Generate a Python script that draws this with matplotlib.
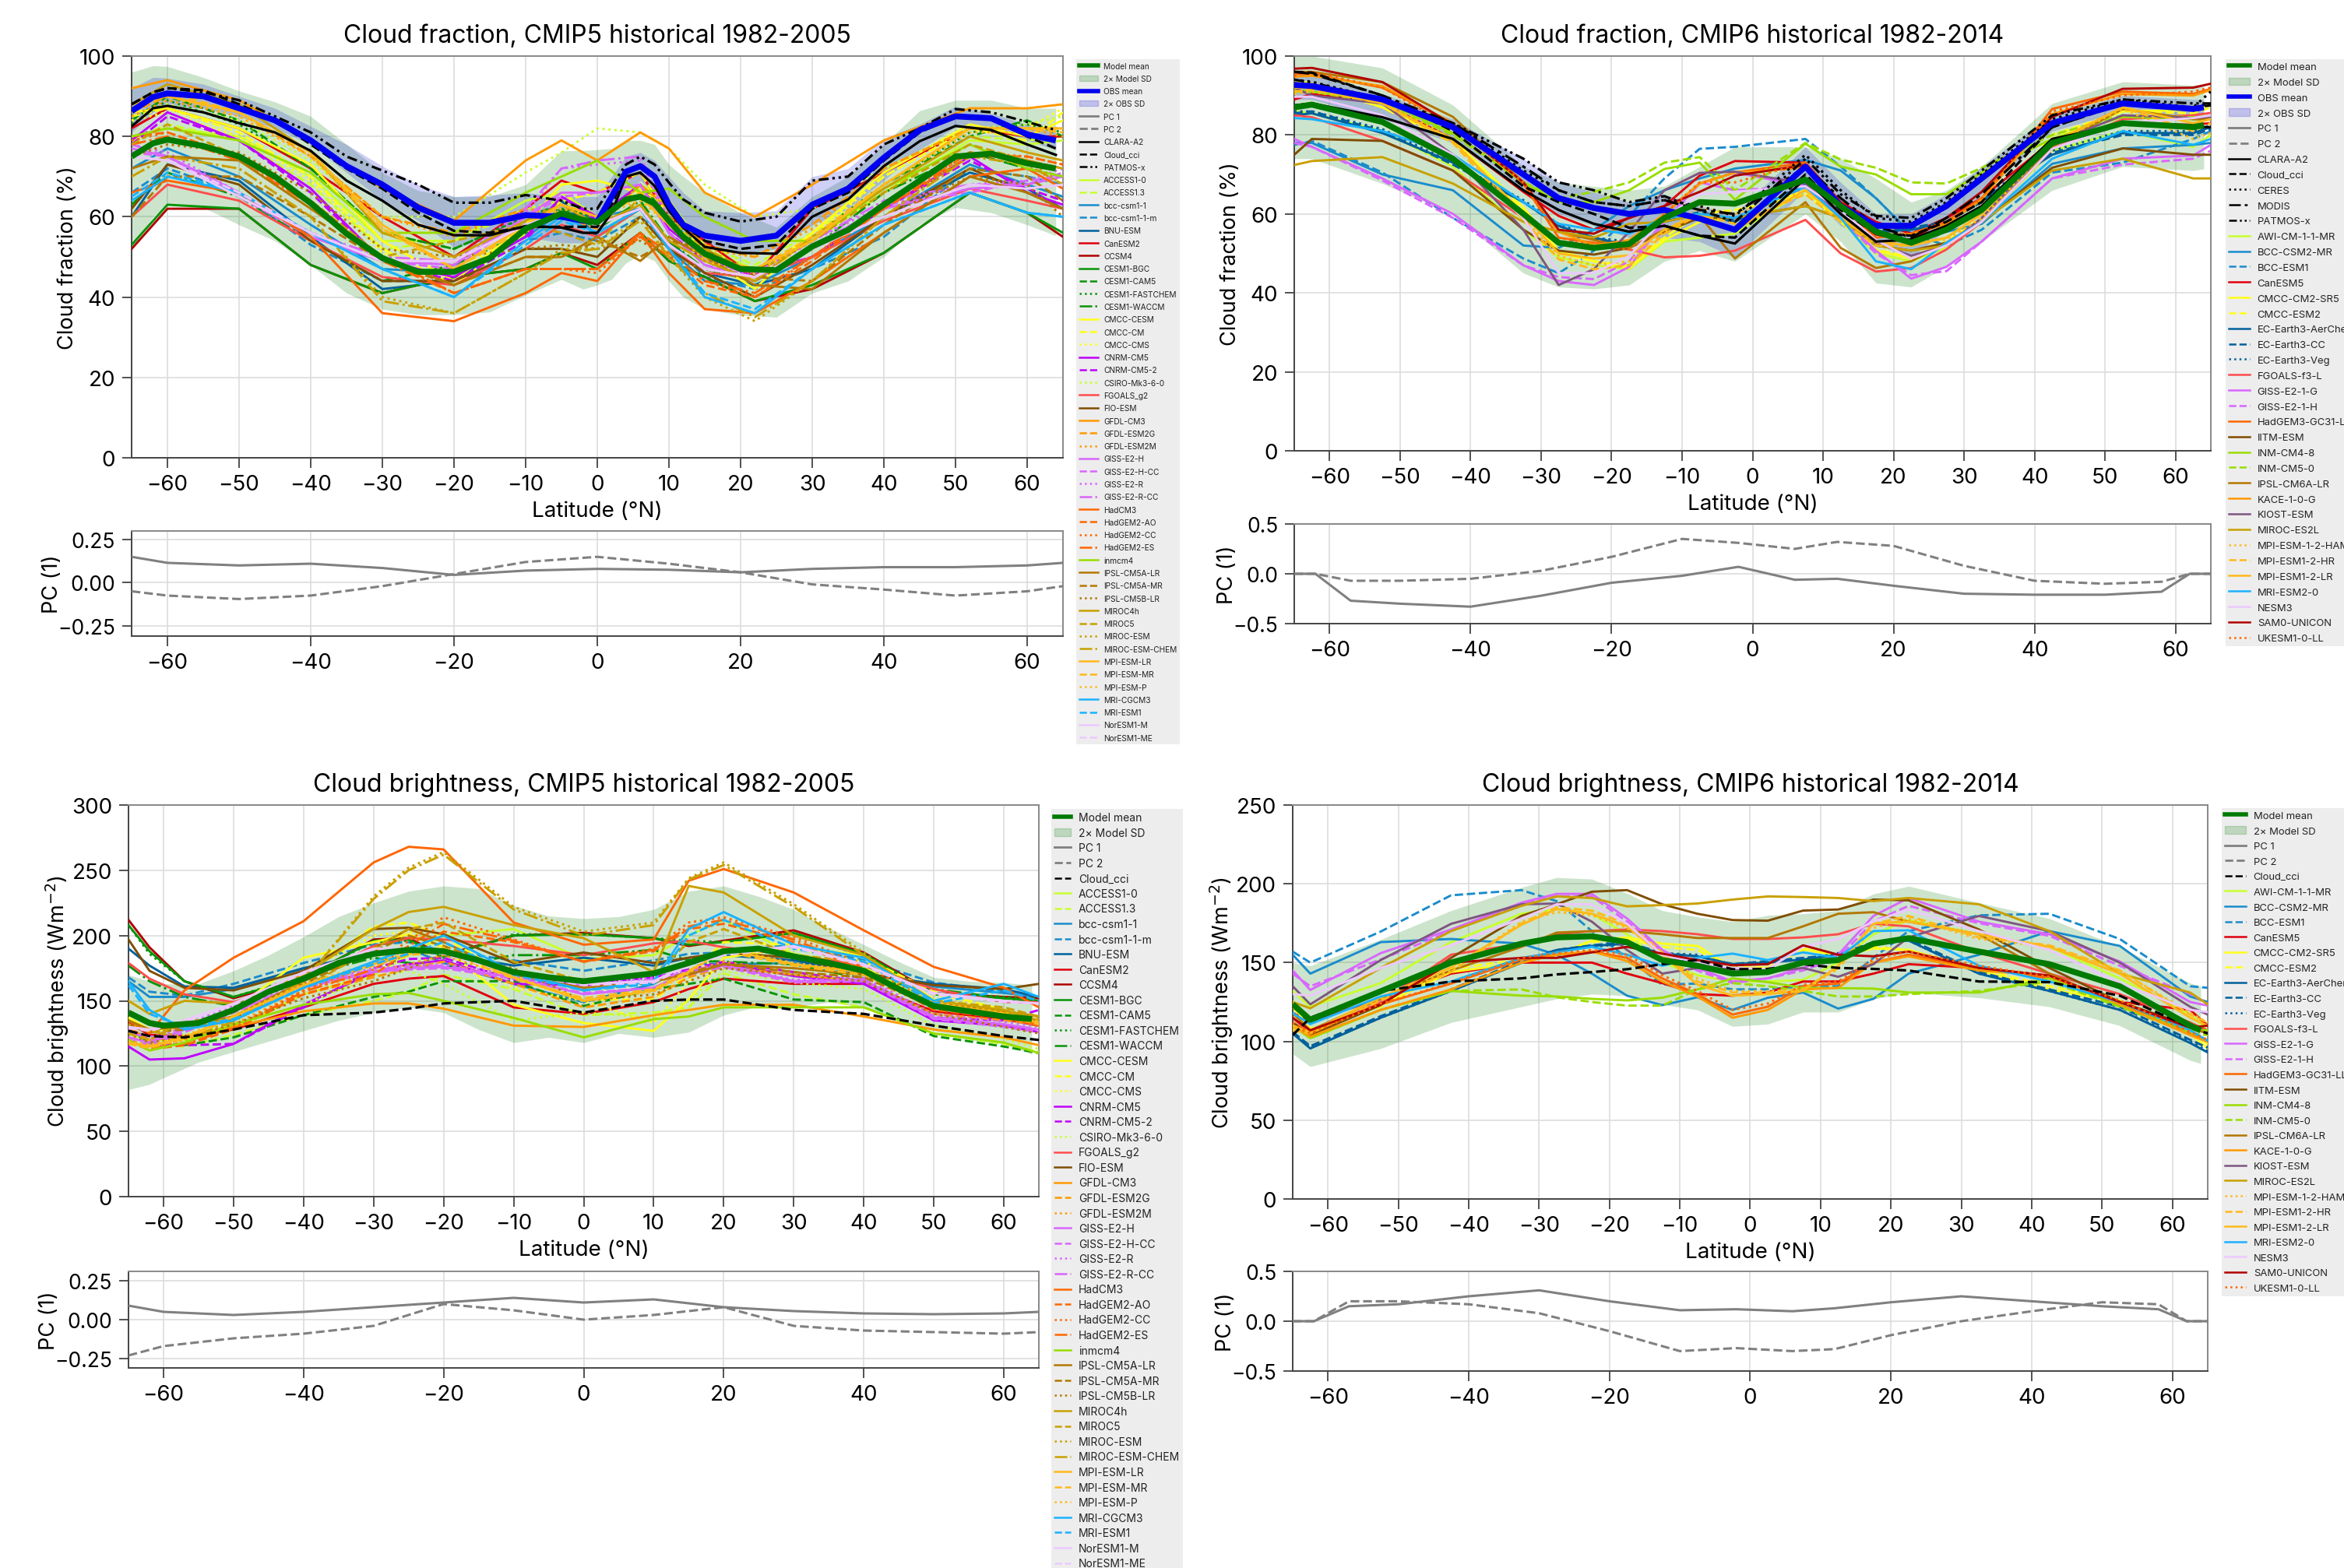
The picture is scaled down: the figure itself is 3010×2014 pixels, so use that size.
import matplotlib
matplotlib.use("Agg")
import matplotlib.pyplot as plt
from matplotlib.lines import Line2D
from matplotlib.patches import Patch

plt.rcParams["font.family"] = ["Inter", "DejaVu Sans"]

# cloud fraction, CMIP5
cf5_lat = [-65, -60, -50, -40, -30, -20, -10, -5, 0, 6, 10, 15, 22, 30, 40, 52, 60, 65]
cf5_fine = [-65, -62, -60, -55, -50, -45, -40, -35, -30, -25, -20, -15, -10, -5, -2, 0, 2, 4, 6, 8, 10, 12, 15, 20, 25, 30, 35, 40, 45, 50, 55, 60, 64]
cf5_mean = [75, 78.3, 79.2, 77.6, 75, 70, 63.4, 55.8, 49.7, 46.3, 46.3, 49.7, 57, 60.8, 59.2, 58.6, 61.5, 64.3, 65, 63.3, 59, 55, 50.8, 47, 46.7, 52.6, 56.7, 63, 69, 75, 75.7, 73.3, 72]
cf5_up = [96, 97.6, 97.4, 94.7, 91.3, 88.6, 85, 78, 71, 66.5, 65, 65, 68, 76.4, 76.5, 76.7, 77, 79, 79, 78, 73, 70, 66, 61, 57.4, 65, 70, 78, 86.4, 89, 89, 87, 87]
cf5_lo = [52, 60, 62.7, 62.3, 58, 54, 48, 41, 37, 35.6, 35.6, 36.3, 40.5, 44.4, 42, 43, 44.4, 48.5, 50.5, 49, 44, 40, 37, 35.5, 35, 41, 44, 50, 58, 62.3, 61, 58, 55.3]
cf5_obs = [86.3, 89.8, 90.7, 90, 87, 84, 79, 72.6, 68, 62.3, 58.5, 58.5, 60.4, 60, 59, 58.8, 65, 71.2, 72.6, 70, 63, 58, 55.3, 54, 55.3, 63, 67, 74.7, 81.6, 85, 84.5, 80.5, 79]
cf5_obs_up = [92, 94.7, 94.5, 93, 90, 87, 82.5, 78, 72.6, 68, 65, 65.4, 66, 65, 65, 65, 70, 75, 76, 74, 70, 66, 61.5, 61, 61.5, 70, 72, 79.5, 83, 87.5, 85.7, 83, 81.6]
cf5_obs_lo = [81, 86, 87.5, 87, 85, 82, 78, 71, 64, 59, 52.4, 54.3, 55, 53.5, 53.5, 54.3, 60, 65.6, 69, 66, 58, 55, 53, 50.8, 52, 58, 62, 69, 76.7, 82.3, 82.3, 79, 76.7]
cf5_sat_names = ["CLARA-A2", "Cloud_cci", "PATMOS-x"]
cf5_sat_vals = [
    [82.5, 87, 87.6, 86, 83.3, 81, 76.4, 69, 64, 58, 55.4, 55.4, 57.7, 57.3, 56, 56, 61, 70, 71, 67.7, 61.5, 57.3, 52.5, 51, 50.8, 60, 64.3, 72.6, 78.8, 82.6, 81.6, 78, 75.4],
    [88, 91, 92, 91.5, 88, 84, 78, 72, 67, 61, 56.5, 56, 57.5, 57.5, 57.5, 57.5, 63, 71, 73, 70, 63, 58, 54, 52, 53, 62, 66, 74, 81, 85, 84.5, 80, 77],
    [88, 91, 92, 91, 89, 85, 81, 75, 71.5, 68, 63.5, 63.5, 65.4, 64, 62, 62, 67.7, 73, 75, 73, 68.5, 64.3, 61, 58.8, 60, 69, 70, 78, 82, 86.8, 86, 83.6, 81.6],
]
cf5_vals = [
    [80, 82, 80, 70, 54, 54, 64, 66, 60, 68, 64, 52, 47, 54, 66, 79, 78, 79],
    [79, 83, 79, 68, 52, 54, 62, 64, 60, 67, 63, 53, 48, 56, 67, 80, 79, 80],
    [72, 77, 70, 58, 47, 46, 55, 61, 60, 62, 52, 44, 43, 50, 60, 73, 68, 65],
    [66, 72, 66, 53, 44, 44, 54, 56, 54, 60, 54, 45, 42, 47, 55, 72, 70, 68],
    [60, 73, 69, 55, 42, 44, 56, 64, 55, 62, 54, 46, 43, 47, 60, 71, 67, 62],
    [82, 87, 82, 72, 60, 50, 62, 69, 66, 71, 60, 54, 45, 62, 71, 82, 80, 80],
    [52, 62, 62, 48, 41, 45, 47, 51, 48, 56, 49, 45, 39, 42, 51, 66, 61, 55],
    [53, 63, 62, 48, 41, 45, 47, 51, 47, 56, 49, 45, 39, 43, 51, 66, 61, 56],
    [84, 90, 84, 72, 56, 52, 60, 63, 59, 68, 60, 50, 46, 54, 68, 80, 84, 80],
    [83, 89, 83, 72, 56, 52, 60, 62, 60, 68, 60, 51, 46, 55, 68, 81, 83, 81],
    [63, 71, 65, 54, 44, 48, 56, 62, 57, 64, 54, 47, 44, 52, 66, 76, 72, 70],
    [86, 87, 82, 73, 54, 44, 58, 68, 69, 66, 64, 50, 42, 56, 71, 83, 80, 84],
    [85, 87, 81, 70, 52, 43, 56, 64, 66, 71, 60, 50, 45, 56, 70, 82, 79, 86],
    [84, 86, 80, 69, 51, 46, 57, 63, 60, 67, 60, 50, 44, 55, 70, 82, 82, 87],
    [79, 86, 79, 67, 49, 45, 55, 65, 60, 68, 57, 50, 45, 50, 62, 75, 66, 63],
    [78, 85, 79, 66, 49, 44, 54, 65, 59, 68, 56, 49, 46, 50, 62, 74, 67, 64],
    [85, 88, 84, 74, 60, 60, 71, 76, 82, 81, 77, 68, 60, 62, 72, 82, 83, 85],
    [60, 68, 64, 54, 45, 43, 52, 58, 55, 62, 53, 46, 45, 50, 59, 67, 64, 62],
    [62, 73, 68, 54, 44, 44, 52, 52, 50, 60, 52, 46, 40, 48, 60, 72, 66, 62],
    [92, 94, 89, 79, 67, 59, 74, 79, 74, 81, 77, 66, 60, 68, 79, 87, 87, 88],
    [86, 90, 86, 75, 60, 56, 62, 60, 57, 68, 62, 53, 50, 58, 72, 82, 82, 82],
    [85, 89, 85, 75, 60, 55, 62, 61, 58, 68, 62, 52, 50, 57, 72, 82, 82, 80],
    [77, 75, 66, 55, 49, 48, 60, 66, 66, 68, 56, 48, 44, 53, 62, 67, 68, 70],
    [76, 75, 65, 55, 49, 47, 60, 65, 66, 68, 56, 48, 45, 52, 63, 66, 69, 70],
    [78, 76, 66, 56, 49, 48, 61, 72, 73, 74, 58, 49, 45, 54, 63, 68, 69, 72],
    [78, 75, 66, 56, 50, 49, 62, 72, 74, 75, 59, 49, 46, 54, 64, 68, 68, 71],
    [66, 69, 66, 55, 36, 34, 41, 46, 44, 56, 46, 37, 36, 44, 56, 70, 72, 67],
    [80, 81, 75, 63, 50, 41, 47, 47, 47, 55, 50, 43, 40, 49, 62, 75, 75, 73],
    [79, 81, 75, 64, 50, 41, 47, 47, 46, 55, 51, 44, 40, 50, 63, 76, 75, 73],
    [78, 80, 74, 63, 49, 41, 47, 47, 47, 56, 51, 44, 41, 50, 62, 76, 74, 72],
    [80, 82, 79, 71, 56, 56, 66, 70, 74, 66, 67, 60, 54, 54, 67, 78, 72, 70],
    [72, 75, 74, 62, 50, 43, 50, 50, 55, 49, 55, 50, 43, 42, 56, 70, 66, 62],
    [60, 70, 70, 60, 49, 43, 50, 50, 54, 50, 54, 52, 45, 44, 58, 72, 70, 64],
    [75, 78, 76, 66, 52, 50, 52, 53, 52, 54, 50, 47, 44, 52, 60, 70, 68, 60],
    [88, 93, 88, 76, 56, 50, 59, 63, 58, 63, 54, 49, 44, 55, 67, 80, 76, 74],
    [78, 83, 75, 64, 50, 54, 58, 56, 53, 65, 60, 52, 46, 54, 66, 78, 74, 72],
    [70, 75, 72, 60, 40, 36, 46, 52, 52, 60, 50, 40, 34, 44, 60, 76, 74, 68],
    [70, 75, 72, 60, 39, 36, 46, 51, 52, 59, 50, 41, 35, 44, 60, 75, 73, 68],
    [88, 90, 86, 76, 58, 47, 58, 63, 60, 65, 58, 50, 47, 54, 68, 82, 82, 82],
    [88, 91, 86, 76, 57, 47, 57, 63, 60, 66, 59, 50, 47, 55, 68, 82, 82, 81],
    [87, 90, 85, 75, 57, 47, 58, 62, 60, 64, 58, 49, 46, 54, 68, 81, 81, 82],
    [64, 70, 66, 56, 47, 40, 54, 60, 56, 62, 52, 40, 36, 47, 58, 66, 61, 60],
    [65, 71, 66, 56, 47, 40, 53, 59, 56, 62, 52, 41, 37, 47, 58, 66, 61, 60],
    [75, 74, 65, 56, 49, 49, 58, 61, 58, 62, 53, 47, 45, 52, 60, 68, 67, 68],
    [75, 74, 66, 56, 49, 49, 58, 60, 58, 62, 53, 47, 45, 52, 60, 68, 67, 68],
]

# cloud fraction, CMIP6
cf6_lat = [-65, -62.5, -52.5, -42.5, -32.5, -27.5, -22.5, -17.5, -12.5, -7.5, -2.5, 7.5, 12.5, 17.5, 22.5, 27.5, 32.5, 42.5, 52.5, 62.5, 65]
cf6_fine = [-65, -62.5, -52.5, -42.5, -32.5, -27.5, -22.5, -17.5, -12.5, -7.5, -2.5, 7.5, 12.5, 17.5, 22.5, 27.5, 32.5, 42.5, 52.5, 62.5, 64]
cf6_mean = [87, 87.7, 83.3, 74, 60, 52.7, 51.4, 52.4, 59, 63, 62.6, 68.7, 62, 55.5, 52.7, 56, 61, 78, 83, 82, 82.5]
cf6_up = [100, 100, 97, 87.6, 72, 68, 67, 66, 67, 72, 77, 77, 74, 69, 63, 66, 72, 88, 93.5, 92.6, 92.7]
cf6_lo = [74, 74, 67.7, 60, 45, 41.5, 41, 42, 48, 50.7, 48, 60, 53, 42.5, 41.5, 46.7, 53, 66, 72, 71, 71.4]
cf6_obs = [92.7, 92.4, 89, 82, 70, 64, 61.5, 60, 61, 58.8, 56, 72, 62, 57, 57, 62, 69, 83, 88, 86.6, 87]
cf6_obs_up = [96, 96, 90.5, 84, 74, 68, 65.5, 63, 65, 62, 60, 77, 68, 60, 60, 65, 72, 85, 90, 89, 89]
cf6_obs_lo = [89, 89, 84, 78, 66, 60, 57, 54, 54, 53, 49, 66, 57, 53, 49, 56, 65, 81, 86, 84, 85]
cf6_sat_names = ["CLARA-A2", "Cloud_cci", "CERES", "MODIS", "PATMOS-x"]
cf6_sat_vals = [
    [87.5, 88, 84.5, 79, 66, 61, 57.5, 55.5, 57, 54.5, 52.5, 69, 60, 53, 53.5, 57, 62, 79, 82.8, 82, 82],
    [96, 95.8, 90, 81, 67, 63, 60, 56.5, 57, 54.5, 54, 70, 61, 55, 54.5, 58, 63, 82, 88, 87, 87.5],
    [94, 93.5, 89, 83, 71, 66, 63, 62, 63.5, 62, 59.5, 75, 66, 59, 58, 63, 70, 84, 89, 87, 91],
    [96, 95.5, 90, 83, 72, 66, 63, 62, 63.5, 61, 60, 72, 64, 57, 54, 59, 65, 82, 88, 87, 88],
    [94, 93.3, 89, 83, 74, 68, 66, 63, 64.5, 61, 58, 74, 65, 59.5, 59, 64, 71, 85, 89, 88, 88],
]
cf6_vals = [
    [86, 85.5, 81, 72, 56, 49, 47, 46, 53, 54, 55, 66, 58, 50, 48, 51.5, 58, 76, 81, 77, 80],
    [78, 78, 70, 66, 52, 51.4, 56, 62, 66, 69, 71.5, 73.7, 71, 64, 55, 55.5, 57.5, 72.7, 76.6, 77.5, 78],
    [77.5, 78.5, 70.5, 59, 48.7, 45, 50.7, 59.5, 69, 76.5, 77, 79, 72, 64, 55, 52, 56, 70.5, 73, 79, 81],
    [89, 90.4, 88, 79, 65.6, 59.5, 56, 59, 62, 69.7, 73.4, 73, 63, 58, 55, 59, 64, 78.5, 83, 82.6, 83],
    [93.8, 93, 87, 79, 61.6, 50.7, 48, 46.3, 53.4, 58, 59, 66, 58, 50.7, 48.7, 52, 58, 79, 86, 86.3, 87.7],
    [93, 92.5, 87, 78, 61, 50, 48, 47, 54, 60, 61, 65, 58, 51, 49, 53, 59, 80, 86, 85.5, 87],
    [85, 85.5, 80.5, 73, 63, 57, 54, 52, 58, 60, 58, 67.7, 61, 55.5, 56, 57.5, 63.6, 75, 80.5, 80.5, 82],
    [85.5, 86, 81, 72.5, 63, 57, 53.5, 52.5, 58, 60.5, 58.5, 67, 61, 55, 56.5, 58, 63, 75.5, 80, 80, 81.5],
    [86, 86, 81.5, 73, 63.5, 57.5, 54, 53, 58.5, 60, 58, 68, 61.5, 56, 56, 58, 64, 76, 81, 81, 82.5],
    [85, 84.5, 78.5, 71, 59, 53, 52, 51, 49, 49.4, 50.7, 58.5, 50, 45.4, 46.3, 51, 58, 76.5, 84, 85, 85.6],
    [79, 77, 69, 60, 47, 43, 42, 46.6, 58, 67.7, 70.5, 67, 59, 50.7, 43.6, 46.6, 53, 69, 74, 74.8, 77.5],
    [78, 77, 68.5, 59, 47, 44, 43.5, 48, 58, 68, 66, 67, 59, 50, 44.5, 45.5, 53, 69, 72.5, 74, 76],
    [95.5, 95.5, 92, 83, 67.7, 54, 52.7, 51.7, 60, 67.7, 70.5, 73, 62, 54, 55, 58, 64, 86.6, 91, 90.4, 91.7],
    [75, 79, 78.5, 71, 56, 50.7, 49.7, 51.4, 55.5, 59, 59, 62, 59, 52, 50.7, 52.7, 58, 71.7, 76.6, 75, 75],
    [91.4, 91, 88.7, 80.5, 68, 63, 63, 66, 71.4, 73, 63.6, 77.8, 72, 70, 65, 65, 70.5, 79, 84.6, 84, 84],
    [91, 91, 88, 80, 68, 64, 65.6, 68, 73, 74.4, 66, 78, 73.8, 71.7, 68, 67.7, 71.7, 80, 85, 84.5, 85],
    [96, 96, 93.4, 84.6, 68, 55.5, 53.4, 51.4, 56, 59.5, 48.7, 63, 51.4, 46.3, 48, 52.7, 58, 77, 86.6, 84, 84],
    [94.8, 95, 92.4, 83, 68, 55.5, 52, 53.4, 60, 67.7, 70.5, 71.7, 62, 54.8, 54.8, 57.5, 63.6, 85.3, 90.4, 90, 91.4],
    [92, 90, 88, 75, 56, 42, 46, 55.5, 66, 70.4, 70.7, 67.7, 60, 52.7, 49.4, 52, 59, 77.8, 85, 84.3, 84.6],
    [72.4, 73.4, 74.4, 67.7, 58, 55.5, 54, 57.5, 58, 60, 59, 62, 59, 52, 50.7, 52, 58, 71, 74, 69, 69],
    [90.4, 91, 88.5, 79, 59, 49.4, 47, 48, 55.5, 61.6, 60, 66, 59, 52.7, 53.4, 53.4, 59, 77.8, 86.6, 79, 80.5],
    [91, 91.5, 88, 78, 58.5, 48.5, 46, 47, 55, 60, 57.5, 65, 58, 52, 52, 54, 60, 78, 87, 81, 83],
    [92, 92, 88, 78.5, 60, 50, 48.7, 49.5, 56, 60, 56, 66, 59, 53, 52, 54, 60, 78, 87, 83, 84],
    [84.3, 84, 81, 75, 63, 57.5, 56, 55, 59, 60, 59, 67, 59, 48, 46, 52.7, 58, 74, 81, 77.5, 79],
    [89.7, 89.7, 85, 75, 59, 45, 45, 49.4, 59, 65, 65.6, 67, 61, 53.4, 48.7, 52, 58, 76.5, 83, 84.3, 85],
    [96.8, 97, 93.4, 82.6, 68, 56, 55, 59, 62, 65.6, 69.7, 72.4, 61.6, 54.8, 53.4, 59, 65.6, 84.6, 91.7, 92, 93],
    [95, 96, 92, 82, 68, 54, 52, 51, 60, 68, 68, 73, 62, 55, 55, 58, 64, 86, 90, 91, 92],
]

# cloud brightness, CMIP5
cb5_lat = [-65, -62, -57, -50, -40, -30, -25, -20, -10, 0, 10, 15, 20, 30, 40, 50, 60, 65]
cb5_fine = [-65, -62, -60, -55, -50, -45, -40, -35, -30, -25, -20, -15, -10, -5, 0, 5, 10, 15, 20, 25, 30, 35, 40, 45, 50, 55, 60, 64]
cb5_mean = [141, 133, 131, 133, 143, 157, 167, 179, 186, 189, 188, 181, 172, 168, 165, 168, 171, 179, 188, 190, 184, 179, 173, 159, 146, 142, 138, 136]
cb5_up = [170, 165, 163, 163, 173, 185, 199, 214.5, 225, 234, 238, 236, 223, 215, 213, 214.5, 220, 234, 238, 230, 220, 206, 193, 180, 168, 165, 164, 162]
cb5_lo = [82, 86, 91, 103, 111, 119, 127, 135, 141, 145, 141, 128, 118, 122, 118, 125, 122, 126, 139, 146, 145, 149, 145, 135, 127, 120, 117, 109]
cb5_cci = [127, 123, 122, 128, 139, 141, 144, 148, 150, 141, 150, 151, 151, 143, 140, 131, 123, 120]
cb5_vals = [
    [125, 120, 120, 128, 155, 170, 185, 200, 205, 182, 185, 200, 212, 186, 176, 148, 138, 130],
    [122, 117, 115, 124, 139, 150, 157, 170, 159, 139, 141, 145, 171, 155, 145, 125, 117, 111],
    [165, 153, 153, 159, 175, 186, 190, 179, 163, 149, 163, 179, 178, 179, 171, 161, 156, 153],
    [168, 157, 154, 163, 179, 193, 195, 188, 181, 173, 181, 186, 187, 193, 181, 164, 157, 153],
    [190, 177, 161, 160, 175, 187, 188, 186, 177, 183, 177, 183, 185, 181, 171, 163, 159, 153],
    [133, 124, 123, 128, 145, 163, 167, 169, 145, 140, 149, 159, 167, 163, 163, 142, 136, 131],
    [212, 191, 165, 152, 167, 197, 198, 185, 200, 202, 198, 192, 196, 204, 187, 156, 153, 152],
    [208, 188, 165, 153, 168, 196, 197, 184, 200, 201, 198, 193, 195, 202, 186, 155, 152, 150],
    [128, 118, 116, 122, 139, 153, 157, 165, 165, 146, 159, 163, 167, 151, 149, 123, 115, 110],
    [208, 186, 165, 153, 169, 195, 196, 183, 201, 201, 198, 196, 195, 202, 184, 156, 153, 152],
    [177, 165, 153, 146, 169, 183, 179, 175, 185, 185, 189, 181, 180, 178, 167, 159, 152, 149],
    [137, 128, 129, 143, 183, 195, 201, 191, 147, 133, 127, 151, 183, 191, 185, 151, 141, 131],
    [137, 127, 130, 141, 170, 207, 210, 199, 167, 151, 151, 170, 195, 193, 183, 157, 143, 133],
    [135, 126, 130, 142, 172, 200, 203, 195, 160, 150, 133, 165, 190, 190, 180, 155, 142, 132],
    [115, 105, 106, 117, 147, 172, 178, 181, 163, 162, 165, 172, 179, 169, 163, 135, 131, 126],
    [118, 116, 116, 117, 145, 175, 182, 183, 166, 163, 168, 174, 180, 172, 165, 137, 135, 143],
    [122, 120, 124, 131, 147, 169, 173, 163, 135, 141, 137, 150, 173, 164, 159, 131, 121, 113],
    [179, 167, 155, 149, 165, 192, 198, 197, 192, 185, 194, 196, 191, 185, 177, 159, 149, 149],
    [197, 173, 160, 158, 173, 205, 206, 201, 179, 187, 179, 183, 187, 183, 171, 162, 159, 163],
    [130, 120, 122, 130, 142, 148, 148, 144, 131, 130, 139, 143, 147, 147, 138, 128, 122, 116],
    [120, 112, 118, 130, 155, 168, 175, 180, 163, 145, 153, 168, 176, 170, 165, 140, 135, 132],
    [125, 116, 120, 132, 158, 172, 178, 185, 168, 150, 158, 172, 180, 172, 168, 145, 138, 135],
    [122, 118, 128, 142, 162, 172, 175, 176, 168, 155, 160, 172, 178, 165, 166, 137, 132, 128],
    [120, 116, 126, 141, 160, 172, 174, 175, 167, 156, 160, 170, 176, 164, 165, 136, 130, 126],
    [128, 122, 132, 146, 163, 175, 177, 178, 170, 163, 168, 173, 178, 166, 168, 140, 134, 130],
    [127, 120, 130, 144, 162, 174, 176, 177, 168, 162, 166, 172, 177, 165, 167, 138, 132, 128],
    [135, 125, 158, 183, 211, 256, 268, 266, 210, 193, 197, 242, 251, 233, 204, 176, 160, 145],
    [118, 113, 116, 128, 155, 170, 188, 203, 195, 180, 188, 205, 209, 195, 173, 143, 137, 131],
    [120, 115, 118, 130, 158, 178, 196, 214, 197, 180, 190, 210, 214, 199, 178, 147, 140, 133],
    [119, 114, 117, 129, 157, 174, 192, 209, 196, 180, 189, 207, 212, 197, 175, 145, 138, 132],
    [120, 112, 118, 132, 147, 155, 156, 150, 137, 122, 136, 138, 145, 145, 145, 125, 118, 110],
    [135, 128, 130, 138, 165, 190, 205, 195, 170, 160, 165, 170, 178, 175, 170, 148, 142, 138],
    [132, 126, 128, 136, 163, 188, 200, 192, 172, 158, 164, 172, 178, 172, 168, 146, 140, 135],
    [125, 118, 122, 132, 152, 165, 175, 185, 175, 150, 155, 165, 175, 170, 165, 140, 130, 125],
    [150, 140, 150, 148, 170, 205, 218, 222, 208, 198, 172, 238, 233, 200, 185, 150, 143, 135],
    [125, 120, 135, 135, 160, 190, 205, 210, 180, 165, 170, 195, 205, 185, 180, 150, 145, 138],
    [132, 128, 122, 135, 165, 230, 252, 264, 222, 203, 210, 244, 256, 224, 187, 145, 143, 137],
    [130, 127, 121, 134, 165, 228, 250, 262, 220, 200, 208, 243, 254, 222, 185, 146, 142, 138],
    [118, 115, 122, 138, 162, 178, 186, 190, 168, 150, 158, 172, 190, 178, 172, 148, 140, 133],
    [117, 114, 121, 137, 161, 177, 185, 188, 167, 152, 159, 173, 188, 177, 170, 147, 139, 132],
    [119, 116, 123, 139, 163, 179, 187, 191, 169, 150, 157, 171, 190, 179, 172, 149, 141, 134],
    [165, 143, 128, 135, 160, 180, 190, 200, 172, 158, 165, 205, 218, 193, 183, 150, 163, 153],
    [162, 140, 130, 136, 160, 178, 186, 195, 170, 158, 163, 200, 212, 190, 180, 148, 158, 150],
    [130, 128, 135, 148, 172, 190, 190, 187, 172, 163, 165, 178, 186, 192, 178, 156, 150, 148],
    [129, 127, 134, 147, 171, 189, 189, 186, 171, 162, 164, 177, 185, 191, 177, 155, 149, 148],
]

# cloud brightness, CMIP6
cb6_lat = [-65, -62.5, -52.5, -42.5, -32.5, -27.5, -22.5, -17.5, -12.5, -7.5, -2.5, 2.5, 7.5, 12.5, 17.5, 22.5, 32.5, 42.5, 52.5, 62.5, 65]
cb6_fine = [-65, -62.5, -52.5, -42.5, -32.5, -27.5, -22.5, -17.5, -12.5, -7.5, -2.5, 2.5, 7.5, 12.5, 17.5, 22.5, 32.5, 42.5, 52.5, 62.5, 64]
cb6_mean = [123.6, 113.7, 131.8, 150, 162, 166, 166.7, 163, 151.6, 148, 143, 144, 150, 151.6, 162, 165.5, 157, 149, 135, 110, 107]
cb6_up = [150, 148, 164.7, 183, 197.7, 204, 203, 194, 183, 179, 176, 180, 181, 183, 193.6, 198.5, 188, 178, 160, 137, 135]
cb6_lo = [92, 84, 95.5, 112, 122, 127, 130, 129, 123.5, 120, 109.5, 111, 118.6, 118.6, 126.8, 131, 127.7, 122, 110, 88, 86]
cb6_cci = [104, 115, 132, 138, 140, 142.5, 144, 145.8, 149, 151.6, 145.8, 146, 149, 146.6, 146, 145, 138, 137.6, 129, 109, 105]
cb6_vals = [
    [132, 122, 137, 163, 181, 184, 181, 168, 150, 142, 138, 138, 139, 150, 168, 177, 168, 160, 140, 117, 107],
    [155, 143, 163, 165, 162, 155, 143, 129, 123, 128, 120, 127.7, 131, 120.8, 127, 143, 155, 170, 160.6, 128.5, 125],
    [157, 150, 169.7, 192.7, 196, 189, 170, 153, 136, 136.7, 133, 133, 135, 135, 153, 170, 180, 181, 165, 135, 134],
    [118, 113, 127, 143, 150, 150, 150, 143, 137, 130, 129, 131, 138, 138, 143, 149, 146.6, 141.7, 125, 120, 110],
    [125, 105, 123, 144, 150, 155, 164, 166, 162, 160.6, 146.6, 146.6, 159, 154, 159, 158, 145, 133, 125, 105, 95.5],
    [122, 108, 122, 146, 152, 156, 163, 165, 160, 158, 147, 147, 158, 155, 160, 158, 146, 135, 126, 107, 98],
    [105, 95.5, 115, 132, 150, 158, 160.6, 162, 155.7, 154, 149, 150, 152, 155, 162, 164, 143, 132, 120, 99, 93],
    [106, 97, 116, 133, 151, 158, 161, 163, 156, 154, 149, 151, 153, 155, 163, 165, 144, 133, 122, 101, 96],
    [105, 96, 115, 132, 150, 157, 160, 162, 156, 155, 148, 150, 152, 156, 162, 164, 143, 132, 120, 100, 94],
    [115, 105, 125, 155, 162, 168, 170, 171, 170, 168, 165, 165, 166, 168, 174.6, 173, 156.5, 143, 130, 112, 107],
    [145, 132.6, 156, 171, 188, 193.6, 193.6, 178, 158, 146.6, 138, 140, 146.6, 155, 179.6, 191, 176, 168, 150.7, 125, 122.7],
    [143, 135, 152, 170, 187, 192, 192, 176, 157, 145, 137, 140, 145, 153, 176, 186, 175, 167, 148, 130, 124],
    [112, 105, 123.5, 136.7, 152, 155, 157, 153, 140, 130, 117, 122, 135, 136.7, 150, 155, 146.6, 140, 125, 105, 100],
    [112, 104, 123, 153, 179.6, 187, 195, 196, 187, 181, 177, 176.6, 183, 183.7, 190, 189.5, 171, 146.6, 125, 110, 106],
    [110, 102, 120, 132, 129, 128.5, 127, 126, 127.7, 133, 140, 137.6, 134, 133.8, 133.5, 131, 131, 140, 122.7, 107, 107],
    [110, 102, 120, 132, 133, 128, 125, 122.7, 122.7, 133, 137, 135, 132, 128.5, 128.5, 130, 132, 138, 122, 105, 104],
    [118, 107, 127, 145, 160, 169, 170, 170, 168, 165.6, 165.6, 165.6, 173, 181, 182, 176, 168, 143, 123.5, 108.7, 105],
    [110, 103, 120, 133, 150, 155, 157, 151, 138, 128.5, 115, 120, 133, 134, 150, 154, 145, 141.7, 123.5, 104, 99.7],
    [135, 123.5, 151.6, 174.6, 187, 187.5, 176, 158, 143, 146.6, 146, 144, 146.6, 141, 149, 166, 179.6, 170, 150, 122, 117],
    [125, 121, 146.6, 170, 186, 192, 191, 185.7, 186.5, 187.5, 190, 192, 191.6, 191, 189, 191, 187, 170, 143, 131, 123.5],
    [108, 106, 127, 145, 176, 182, 180, 172, 156, 140, 132, 132, 133, 146, 172, 178, 165, 160, 145, 118, 112],
    [107, 105, 126, 144, 175, 185, 183, 174.6, 156.5, 138, 131, 131, 133, 146.6, 174.6, 179.6, 166, 161, 145, 117, 112],
    [110, 106, 128, 147, 174, 184, 181, 173, 155, 136, 129, 130, 132, 148, 175, 176, 168, 160, 143, 115, 110],
    [118, 111, 128.5, 138, 153, 156.5, 160, 155, 148, 153, 155.7, 151.6, 156.5, 153, 170, 170.5, 148, 138, 125, 107, 100.5],
    [130, 129, 146.6, 161, 178, 187, 187, 174.6, 155, 150, 146.6, 146, 160, 165, 176, 183.7, 170, 158, 137, 120, 118.6],
    [115, 107, 123.5, 150, 153, 153, 156.5, 160, 155.7, 151.6, 148.3, 149, 161, 155, 154, 157, 146.6, 141.7, 125, 108.7, 110],
    [112, 105, 124, 137, 153, 156, 158, 155, 142, 132, 120, 124, 136, 138, 152, 157, 148, 141, 126, 106, 101],
]

# leading principal components
pc5_lat = [-65, -60, -50, -40, -30, -20, -10, 0, 10, 20, 30, 40, 50, 60, 65]
cf5_pc1 = [0.15, 0.115, 0.10, 0.11, 0.085, 0.045, 0.07, 0.08, 0.075, 0.06, 0.08, 0.09, 0.09, 0.10, 0.115]
cf5_pc2 = [-0.05, -0.075, -0.095, -0.075, -0.02, 0.05, 0.12, 0.15, 0.11, 0.06, -0.01, -0.04, -0.075, -0.05, -0.02]
cb5_pc1 = [0.09, 0.05, 0.03, 0.05, 0.08, 0.11, 0.14, 0.11, 0.13, 0.08, 0.055, 0.04, 0.035, 0.04, 0.05]
cb5_pc2 = [-0.23, -0.17, -0.12, -0.09, -0.04, 0.10, 0.06, 0.0, 0.03, 0.08, -0.04, -0.07, -0.08, -0.09, -0.08]
pc6_lat = [-65, -62, -57, -50, -40, -30, -20, -10, -2, 6, 12, 20, 30, 40, 50, 58, 62, 65]
cf6_pc1 = [0, 0, -0.27, -0.30, -0.33, -0.22, -0.09, -0.02, 0.07, -0.06, -0.05, -0.12, -0.2, -0.21, -0.21, -0.18, 0, 0]
cf6_pc2 = [0, 0, -0.07, -0.07, -0.05, 0.03, 0.17, 0.35, 0.31, 0.25, 0.32, 0.28, 0.08, -0.07, -0.10, -0.08, 0, 0]
cb6_pc1 = [0, 0, 0.15, 0.17, 0.25, 0.31, 0.2, 0.11, 0.12, 0.10, 0.13, 0.19, 0.25, 0.2, 0.15, 0.12, 0, 0]
cb6_pc2 = [0, 0, 0.2, 0.2, 0.17, 0.08, -0.1, -0.3, -0.27, -0.3, -0.28, -0.14, 0, 0.1, 0.19, 0.17, 0, 0]

# model names, line styles and colours
names5 = ["ACCESS1-0", "ACCESS1.3", "bcc-csm1-1", "bcc-csm1-1-m", "BNU-ESM", "CanESM2", "CCSM4", "CESM1-BGC",
          "CESM1-CAM5", "CESM1-FASTCHEM", "CESM1-WACCM", "CMCC-CESM", "CMCC-CM", "CMCC-CMS", "CNRM-CM5", "CNRM-CM5-2",
          "CSIRO-Mk3-6-0", "FGOALS_g2", "FIO-ESM", "GFDL-CM3", "GFDL-ESM2G", "GFDL-ESM2M", "GISS-E2-H", "GISS-E2-H-CC",
          "GISS-E2-R", "GISS-E2-R-CC", "HadCM3", "HadGEM2-AO", "HadGEM2-CC", "HadGEM2-ES", "inmcm4", "IPSL-CM5A-LR",
          "IPSL-CM5A-MR", "IPSL-CM5B-LR", "MIROC4h", "MIROC5", "MIROC-ESM", "MIROC-ESM-CHEM", "MPI-ESM-LR",
          "MPI-ESM-MR", "MPI-ESM-P", "MRI-CGCM3", "MRI-ESM1", "NorESM1-M", "NorESM1-ME"]
styles5 = ["-", "--", "-", "--", "-", "-", "-", "-", "--", ":", "-.", "-", "--", ":", "-", "--", ":", "-", "-", "-",
           "--", ":", "-", "--", ":", "-.", "-", "--", ":", "-.", "-", "-", "--", ":", "-", "--", ":", "-.", "-", "--",
           ":", "-", "--", "-", "--"]
colors5 = ["#c8ff2e", "#c8ff2e", "#1a8ccc", "#1a8ccc", "#00609c", "#e0000d", "#b00000", "#089408", "#089408", "#089408",
           "#089408", "#ffff1a", "#ffff1a", "#ffff1a", "#bf00ff", "#bf00ff", "#c8ff2e", "#ff4d4d", "#804d00", "#ff9900",
           "#ff9900", "#ff9900", "#d966ff", "#d966ff", "#d966ff", "#d966ff", "#ff6600", "#ff6600", "#ff6600", "#ff6600",
           "#99dd00", "#b37700", "#b37700", "#b37700", "#c9a000", "#c9a000", "#c9a000", "#c9a000", "#ffb91a", "#ffb91a",
           "#ffb91a", "#1ab2ff", "#1ab2ff", "#ecc8ff", "#ecc8ff"]
names6 = ["AWI-CM-1-1-MR", "BCC-CSM2-MR", "BCC-ESM1", "CanESM5", "CMCC-CM2-SR5", "CMCC-ESM2", "EC-Earth3-AerChem",
          "EC-Earth3-CC", "EC-Earth3-Veg", "FGOALS-f3-L", "GISS-E2-1-G", "GISS-E2-1-H", "HadGEM3-GC31-LL", "IITM-ESM",
          "INM-CM4-8", "INM-CM5-0", "IPSL-CM6A-LR", "KACE-1-0-G", "KIOST-ESM", "MIROC-ES2L", "MPI-ESM-1-2-HAM",
          "MPI-ESM1-2-HR", "MPI-ESM1-2-LR", "MRI-ESM2-0", "NESM3", "SAM0-UNICON", "UKESM1-0-LL"]
styles6 = ["-", "-", "--", "-", "-", "--", "-", "--", ":", "-", "-", "--", "-", "-", "-", "--", "-", "-", "-", "-", ":",
           "--", "-", "-", "-", "-", ":"]
colors6 = ["#c8ff2e", "#1a8ccc", "#1a8ccc", "#e0000d", "#ffff1a", "#ffff1a", "#00609c", "#00609c", "#00609c", "#ff4d4d",
           "#d966ff", "#d966ff", "#ff6600", "#804d00", "#99dd00", "#99dd00", "#b37700", "#ff9900", "#7f5580", "#c9a000",
           "#ffb91a", "#ffb91a", "#ffb91a", "#1ab2ff", "#ecc8ff", "#b00000", "#ff6600"]

sat_styles = {"CLARA-A2": "-", "Cloud_cci": "--", "CERES": ":", "MODIS": (0, (6, 2, 1.5, 2)), "PATMOS-x": (0, (4, 1.5, 1, 1.5, 1, 1.5))}
GREEN = "#047a04"
GREY = "#808080"
W, H = 3010, 2015

fig = plt.figure(figsize=(W / 100, H / 100), dpi=100)


def px_axes(x0, x1, y0, y1):
    return fig.add_axes([x0 / W, 1 - y1 / H, (x1 - x0) / W, (y1 - y0) / H])


def dress(ax, xticks, yticks, ylim, ylabel, pad, lsize):
    ax.set_xlim(-65, 65)
    ax.set_ylim(*ylim)
    ax.set_xticks(xticks)
    ax.set_yticks(yticks)
    ax.grid(color="#dddddd", lw=1.2)
    ax.set_axisbelow(True)
    ax.tick_params(labelsize=20, length=9, width=1.2, pad=6, color="#333333")
    ax.set_ylabel(ylabel, fontsize=lsize, labelpad=pad)
    for side in ["top", "right"]:
        ax.spines[side].set_color("#888888")
    for side in ["left", "bottom"]:
        ax.spines[side].set_color("#444444")
    for s in ax.spines.values():
        s.set_linewidth(1.4)


def panel(box, title, lat, fine, mean, up, lo, vals, styles, colors, ylim, yticks, ylabel,
          sat_lat, sats, sat_names, obs=None, obs_up=None, obs_lo=None):
    ax = px_axes(*box)
    dress(ax, range(-60, 61, 10), yticks, ylim, ylabel, 1, 19.5)
    ax.set_title(title, fontsize=23, pad=13)
    ax.set_xlabel("Latitude (°N)", fontsize=20, labelpad=6)
    ax.fill_between(fine, lo, up, color=GREEN, alpha=0.2, lw=0, zorder=2)
    if obs is not None:
        ax.fill_between(fine, obs_lo, obs_up, color="#1010e0", alpha=0.2, lw=0, zorder=2)
    for v, c, s in zip(vals, colors, styles):
        ax.plot(lat, v, color=c, ls=s, lw=2.1, zorder=3)
    for v, n in zip(sats, sat_names):
        ax.plot(sat_lat, v, color="black", ls=sat_styles[n], lw=2.3, zorder=4)
    if obs is not None:
        ax.plot(fine, obs, color="#0000ee", lw=5.5, zorder=5, solid_capstyle="butt")
    ax.plot(fine, mean, color="#007a00", lw=5.5, zorder=6, solid_capstyle="butt")


def pc_panel(box, lat, pc1, pc2, ylim, yticks, fmt):
    ax = px_axes(*box)
    dress(ax, range(-60, 61, 20), yticks, ylim, "PC (1)", -4, 19.5)
    ax.set_yticklabels([fmt.format(t).replace("-", "\u2212") for t in yticks], fontsize=19)
    ax.plot(lat, pc1, color=GREY, lw=2.2, zorder=3)
    ax.plot(lat, pc2, color=GREY, ls="--", lw=2.2, zorder=3)


def legend(anchor, fontsize, spacing, hlen, bpad, names, styles, colors, sat_names, has_obs):
    hs = [Line2D([], [], color="#007a00", lw=4), Patch(color=GREEN, alpha=0.2)]
    ls = ["Model mean", "2\u00d7 Model SD"]
    if has_obs:
        hs += [Line2D([], [], color="#0000ee", lw=4), Patch(color="#1010e0", alpha=0.2)]
        ls += ["OBS mean", "2\u00d7 OBS SD"]
    hs += [Line2D([], [], color=GREY, lw=2), Line2D([], [], color=GREY, ls="--", lw=2)]
    ls += ["PC 1", "PC 2"]
    for n in sat_names:
        hs.append(Line2D([], [], color="black", ls=sat_styles[n], lw=1.8))
        ls.append(n)
    for n, s, c in zip(names, styles, colors):
        hs.append(Line2D([], [], color=c, ls=s, lw=1.8))
        ls.append(n)
    leg = fig.legend(hs, ls, loc="upper left", bbox_to_anchor=(anchor[0] / W, 1 - anchor[1] / H),
                     fontsize=fontsize, labelspacing=spacing, handlelength=hlen, handleheight=0.7,
                     handletextpad=0.72, borderpad=bpad, borderaxespad=0, frameon=True, fancybox=False,
                     framealpha=1, facecolor="#ededed", edgecolor="none")
    for t in leg.get_texts():
        t.set_color("#222222")


panel((169, 1365, 73, 589), "Cloud fraction, CMIP5 historical 1982-2005", cf5_lat, cf5_fine, cf5_mean, cf5_up, cf5_lo, cf5_vals,
      styles5, colors5, (0, 100), range(0, 101, 20), "Cloud fraction (%)", cf5_fine, cf5_sat_vals, cf5_sat_names,
      cf5_obs, cf5_obs_up, cf5_obs_lo)
pc_panel((169, 1365, 683, 818), pc5_lat, cf5_pc1, cf5_pc2, (-0.31, 0.30), [-0.25, 0, 0.25], "{:.2f}")
legend((1382, 77), 7.3, 0.62, 2.4, 0.35, names5, styles5, colors5, cf5_sat_names, True)

panel((1662, 2839, 73, 580), "Cloud fraction, CMIP6 historical 1982-2014", cf6_lat, cf6_fine, cf6_mean, cf6_up, cf6_lo, cf6_vals,
      styles6, colors6, (0, 100), range(0, 101, 20), "Cloud fraction (%)", cf6_lat, cf6_sat_vals, cf6_sat_names,
      cf6_obs, cf6_obs_up, cf6_obs_lo)
pc_panel((1662, 2839, 674, 802), pc6_lat, cf6_pc1, cf6_pc2, (-0.5, 0.5), [-0.5, 0, 0.5], "{:.1f}")
legend((2858, 77), 9.4, 0.59, 2.1, 0.3, names6, styles6, colors6, cf6_sat_names, True)

panel((165, 1334, 1035, 1538), "Cloud brightness, CMIP5 historical 1982-2005", cb5_lat, cb5_fine, cb5_mean, cb5_up, cb5_lo, cb5_vals,
      styles5, colors5, (0, 300), range(0, 301, 50), "Cloud brightness (Wm$^{-2}$)", cb5_lat, [cb5_cci], ["Cloud_cci"])
pc_panel((165, 1334, 1634, 1758), pc5_lat, cb5_pc1, cb5_pc2, (-0.31, 0.31), [-0.25, 0, 0.25], "{:.2f}")
legend((1350, 1040), 10, 0.40, 1.5, 0.3, names5, styles5, colors5, ["Cloud_cci"], False)

panel((1660, 2835, 1035, 1541), "Cloud brightness, CMIP6 historical 1982-2014", cb6_lat, cb6_fine, cb6_mean, cb6_up, cb6_lo, cb6_vals,
      styles6, colors6, (0, 250), range(0, 251, 50), "Cloud brightness (Wm$^{-2}$)", cb6_lat, [cb6_cci], ["Cloud_cci"])
pc_panel((1660, 2835, 1634, 1762), pc6_lat, cb6_pc1, cb6_pc2, (-0.5, 0.5), [-0.5, 0, 0.5], "{:.1f}")
legend((2853, 1039), 9.4, 0.57, 2.1, 0.3, names6, styles6, colors6, ["Cloud_cci"], False)

fig.savefig("out.png", dpi=100)
